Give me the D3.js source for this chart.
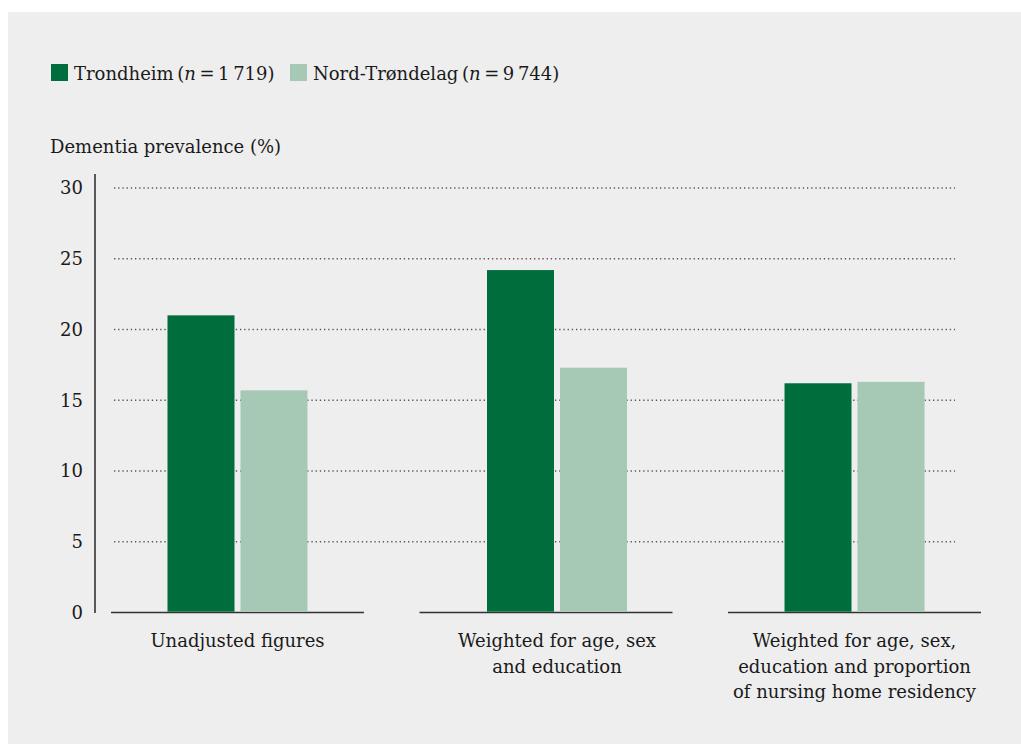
<!DOCTYPE html>
<html>
<head>
<meta charset="utf-8">
<script src="https://cdn.jsdelivr.net/npm/d3@7"></script>
<style>
  body { margin: 0; background: #ffffff; }
  svg { display: block; }
  text { font-family: "DejaVu Serif", serif; fill: #1a1a1a; }
</style>
</head>
<body>
<svg id="chart" width="1021" height="744"></svg>
<script>
// chart data
const categories = [
  ["Unadjusted figures"],
  ["Weighted for age, sex", "and education"],
  ["Weighted for age, sex,", "education and proportion", "of nursing home residency"]
]
const seriesNames = ["Trondheim", "Nord-Trøndelag"]
const seriesN = ["1\u2009719", "9\u2009744"]
const trondheim = [21.0, 24.2, 16.2]
const nordTrondelag = [15.7, 17.3, 16.3]
const yTicks = [0, 5, 10, 15, 20, 25, 30]

const colors = ["#006d3c", "#a6c9b5"]

const svg = d3.select("#chart")

// grey panel
svg.append("rect")
  .attr("x", 8).attr("y", 12)
  .attr("width", 1013).attr("height", 732)
  .attr("fill", "#eeeeee")

const axisX = 95
const plotLeft = 111, plotRight = 981
// the middle group's bars sit a little right of its baseline centre
const groupShift = [0, 11, 0]

const y = d3.scaleLinear().domain([0, 30]).range([612.5, 188])

const x0 = d3.scaleBand()
  .domain(d3.range(categories.length))
  .range([plotLeft, plotRight])
  .paddingInner(0.18)
  .paddingOuter(0)

const x1 = d3.scaleBand()
  .domain([0, 1])
  .range([0, x0.bandwidth()])
  .paddingInner(0.082)
  .paddingOuter(0.774)

// dotted gridlines (skip 0)
svg.append("g")
  .selectAll("line")
  .data(yTicks.filter((d) => d > 0))
  .enter()
  .append("line")
  .attr("x1", 114).attr("x2", 955)
  .attr("y1", (d) => y(d)).attr("y2", (d) => y(d))
  .attr("stroke", "#555")
  .attr("stroke-width", 1.3)
  .attr("stroke-dasharray", "1.3,2.9")

// y axis
const yAxis = d3.axisLeft(y).tickValues(yTicks).tickSize(0).tickPadding(12)
const gy = svg.append("g")
  .attr("transform", `translate(${axisX},0)`)
  .call(yAxis)
gy.select(".domain").remove()
gy.selectAll("text")
  .style("font-family", "DejaVu Serif, serif")
  .style("font-size", "18px")
  .attr("fill", "#1a1a1a")
gy.append("line")
  .attr("x1", 0).attr("x2", 0)
  .attr("y1", 174).attr("y2", 613)
  .attr("stroke", "#333").attr("stroke-width", 1.6)

// groups
const values = categories.map((c, i) => [trondheim[i], nordTrondelag[i]])

const groups = svg.selectAll(".group")
  .data(values)
  .enter()
  .append("g")
  .attr("class", "group")
  .attr("transform", (d, i) => `translate(${x0(i)},0)`)

// baseline segment per group
groups.append("line")
  .attr("x1", 0).attr("x2", x0.bandwidth())
  .attr("y1", y(0)).attr("y2", y(0))
  .attr("stroke", "#333").attr("stroke-width", 1.6)

const inner = groups.append("g")
  .attr("transform", (d, i) => `translate(${groupShift[i]},0)`)

inner.selectAll("rect")
  .data((d) => d)
  .enter()
  .append("rect")
  .attr("x", (d, i) => x1(i))
  .attr("width", x1.bandwidth())
  .attr("y", (d) => y(d))
  .attr("height", (d) => y(0) - y(d) - 0.8)
  .attr("fill", (d, i) => colors[i])

// category labels
inner.append("text")
  .attr("text-anchor", "middle")
  .attr("x", x0.bandwidth() / 2)
  .attr("y", 647)
  .style("font-size", "18px")
  .selectAll("tspan")
  .data((d, i) => categories[i])
  .enter()
  .append("tspan")
  .attr("x", x0.bandwidth() / 2)
  .attr("dy", (d, i) => (i === 0 ? 0 : 25.5))
  .text((d) => d)

// axis title
svg.append("text")
  .attr("x", 50).attr("y", 153)
  .style("font-size", "18px")
  .text("Dementia prevalence (%)")

// legend
const legendX = [51, 290]
const legend = svg.selectAll(".legend")
  .data(seriesNames)
  .enter()
  .append("g")
  .attr("class", "legend")
  .attr("transform", (d, i) => `translate(${legendX[i]},64)`)

legend.append("rect")
  .attr("width", 17).attr("height", 17)
  .attr("fill", (d, i) => colors[i])

const lt = legend.append("text")
  .attr("x", 23).attr("y", 16)
  .style("font-size", "18px")
lt.append("tspan").text((d) => d + "\u2009(")
lt.append("tspan").style("font-style", "italic").text("n")
lt.append("tspan").text((d, i) => "\u2009=\u2009" + seriesN[i] + ")")
</script>
</body>
</html>
